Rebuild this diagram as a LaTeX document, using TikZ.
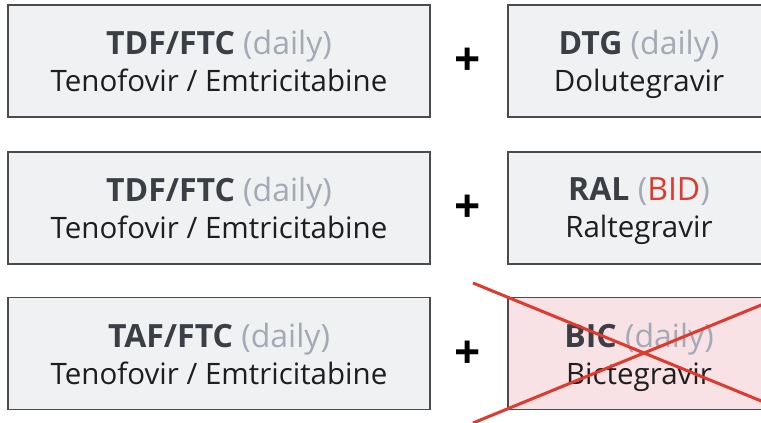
\documentclass[tikz,border=0pt]{standalone}
\usepackage{fontspec}
\setmainfont{Open Sans}
\usepackage{tikz}
\usetikzlibrary{positioning}
\definecolor{boxfill}{HTML}{F0F1F3}
\definecolor{boxline}{HTML}{4A4B4F}
\definecolor{titlecol}{HTML}{3B3E44}
\definecolor{dailycol}{HTML}{A3AAB5}
\definecolor{namecol}{HTML}{1E1E1E}
\definecolor{pinkfill}{HTML}{F9E2E6}
\definecolor{crossred}{HTML}{E0392E}
\tikzset{
	drugbox/.style={draw=boxline, line width=1.2pt, fill=boxfill, rectangle, align=center, inner sep=0pt, text depth=0pt, text=namecol, font=\fontsize{29.5}{37}\selectfont},
	leftbox/.style={drugbox, minimum width=422pt, minimum height=112pt},
	rightbox/.style={drugbox, minimum width=262pt, minimum height=112pt},
	plussign/.style={font=\fontsize{46}{46}\selectfont\bfseries, text=black, inner sep=0pt}
}
\newcommand{\drugtitle}[2]{{\fontsize{32}{37}\selectfont{\bfseries\color{titlecol}#1} {\color{dailycol}(#2)}}}
\begin{document}
\begin{tikzpicture}[x=1pt,y=-1pt]
			%%%%% START %%%%%
			\useasboundingbox (0,0) rectangle (761,423);
			
			\node[leftbox] (tdfa) at (219, 61) {\drugtitle{TDF/FTC}{daily}\\Tenofovir / Emtricitabine};
			\node[plussign] (plusa) at (468, 62) {+};
			\node[rightbox] (dtg) at (639, 61) {\drugtitle{DTG}{daily}\\Dolutegravir};
			
			\node[leftbox] (tdfb) at (219, 208) {\drugtitle{TDF/FTC}{daily}\\Tenofovir / Emtricitabine};
			\node[plussign] (plusb) at (468, 209) {+};
			\node[rightbox] (ral) at (639, 208) {{\fontsize{32}{37}\selectfont{\bfseries\color{titlecol}RAL} {\color{dailycol}(}{\color{crossred}BID}{\color{dailycol})}}\\Raltegravir};
			
			\node[leftbox] (taf) at (219, 353.5) {\drugtitle{TAF/FTC}{daily}\\Tenofovir / Emtricitabine};
			\node[plussign] (plusc) at (468, 355) {+};
			\node[rightbox, fill=pinkfill] (bic) at (639, 353.5) {\drugtitle{BIC}{daily}\\Bictegravir};
			
			% struck out
			\draw[line width=3pt, crossred] (473, 283) -- (815, 423);
			\draw[line width=3pt, crossred] (473, 423) -- (815, 283);
			%%%%% END %%%%%
		\end{tikzpicture}
\end{document}
